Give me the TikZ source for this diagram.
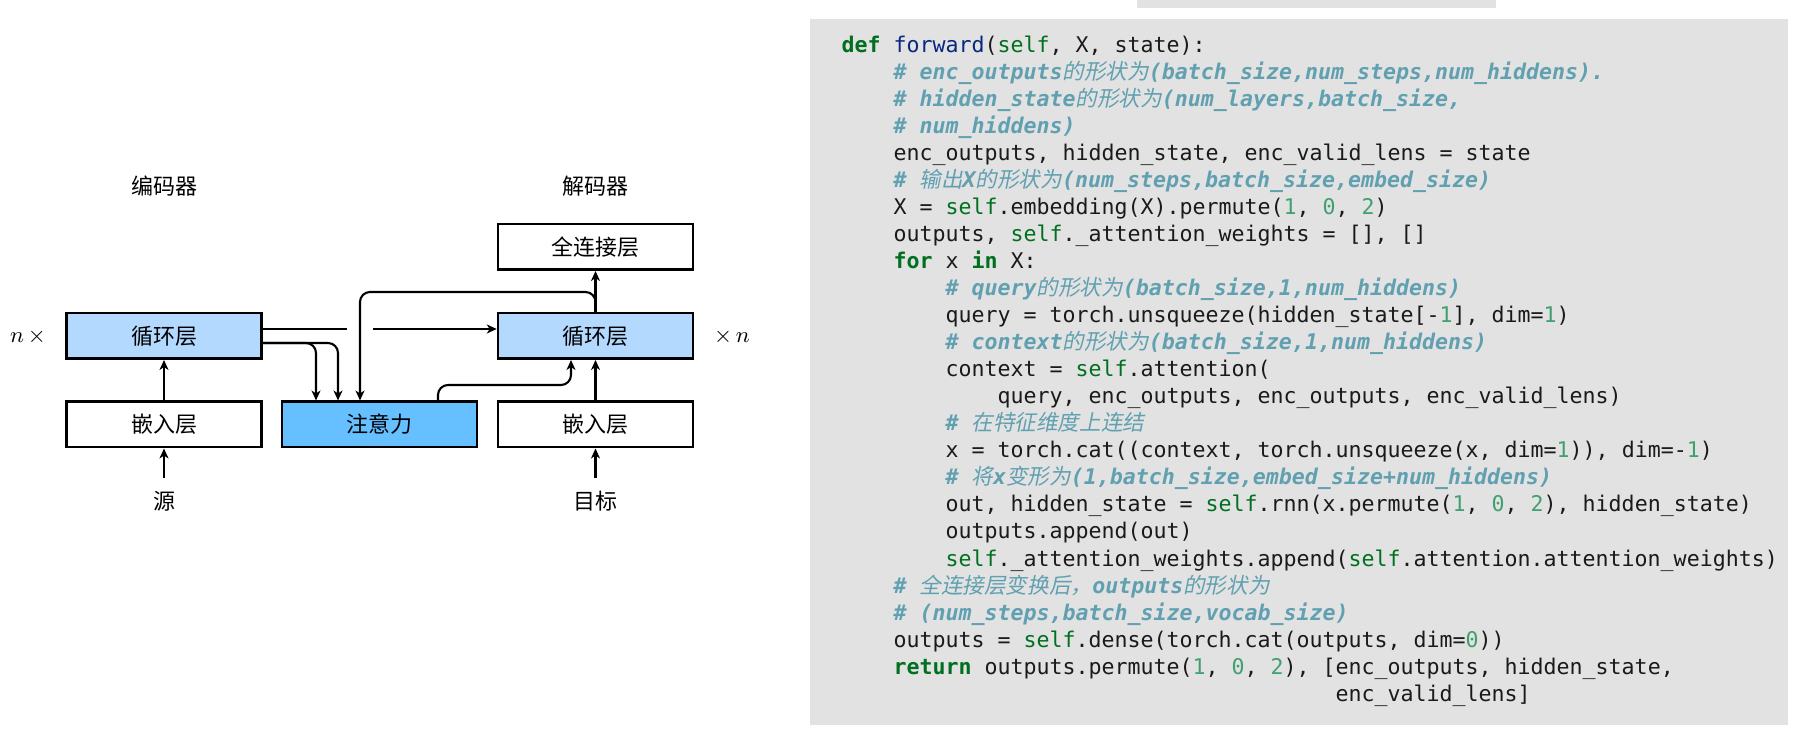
\documentclass[tikz,border=0pt]{standalone}
\usepackage{fontspec}
\setmonofont{DejaVu Sans Mono}
\newfontfamily\cjk{Noto Sans CJK SC}
\newfontfamily\cjkit{Noto Sans CJK SC}[FakeSlant=0.2]
\usetikzlibrary{arrows.meta,calc}
\definecolor{codebg}{RGB}{226,226,226}
\definecolor{rnnblue}{RGB}{179,217,255}
\definecolor{attblue}{RGB}{102,191,255}
\definecolor{kwgreen}{HTML}{007020}
\definecolor{fnblue}{HTML}{06287E}
\definecolor{numgreen}{HTML}{40A070}
\definecolor{cmblue}{HTML}{60A0B0}
\definecolor{codetext}{HTML}{1A1A1A}

% code colouring
\newcommand{\kw}[1]{{\bfseries\color{kwgreen}#1}}
\newcommand{\slf}[1]{{\color{kwgreen}#1}}
\newcommand{\fn}[1]{{\color{fnblue}#1}}
\newcommand{\nm}[1]{{\color{numgreen}#1}}
\newcommand{\cm}[1]{{\bfseries\itshape\color{cmblue}#1}}
\newcommand{\zh}[1]{{\cjkit\mdseries #1}}

\begin{document}
\begin{tikzpicture}[x=0.4pt, y=-0.4pt,
    box/.style={draw, line width=1pt, minimum width=78pt, minimum height=18.2pt,
        inner sep=0pt, font=\cjk\fontsize{8.8pt}{10pt}\selectfont},
    titletext/.style={inner sep=4.8pt, font=\cjk\fontsize{8.8pt}{10pt}\selectfont},
    mathtext/.style={inner sep=0pt, font=\fontsize{9pt}{10pt}\selectfont},
    wire/.style={line width=0.85pt, rounded corners=4pt},
    conn/.style={wire, -{Stealth[length=4pt, width=3.6pt, inset=1.2pt]}},
    codeline/.style={anchor=base west, inner sep=0pt, text=codetext,
        font=\ttfamily\fontsize{8.64pt}{10.8pt}\selectfont}]
    \fill[white] (0,0) rectangle (1810,744);
    \fill[codebg] (1137,0) rectangle (1496,8);
    \fill[codebg] (810,19) rectangle (1788,725);

    % diagram
    \node[titletext] (enctitle) at (164,186) {编码器};
    \node[titletext] (dectitle) at (595.5,186) {解码器};
    \node[box] (dense) at (595.5,247) {全连接层};
    \node[box, fill=rnnblue] (encrnn) at (164,336) {循环层};
    \node[box, fill=rnnblue] (decrnn) at (595.5,336) {循环层};
    \node[box] (encemb) at (164,424.5) {嵌入层};
    \node[box, fill=attblue] (attn) at (379.5,424.5) {注意力};
    \node[box] (decemb) at (595.5,424.5) {嵌入层};
    \node[titletext] (src) at (164,501) {源};
    \node[titletext] (tgt) at (595.5,501) {目标};
    \node[mathtext] (nl) at (28,337) {$n\,\times$};
    \node[mathtext] (nr) at (732,337) {$\times\,n$};
    \coordinate (gapl) at (347,329);
    \coordinate (gapr) at (373,329);

    \draw[conn] (src) -- (encemb);
    \draw[conn] (encemb) -- (encrnn);
    \draw[conn] (tgt) -- (decemb);
    \draw[conn] (decemb) -- (decrnn);
    \draw[conn] (decrnn) -- (dense);
    \draw[wire] ($(encrnn.east)+(0,-7)$) -- (gapl);
    \draw[conn] (gapr) -- (decrnn.west |- gapr);
    \draw[conn] ($(encrnn.east)+(0,7)$) -| ($(attn.north)+(-63.5,0)$);
    \draw[conn] ($(encrnn.east)+(0,7)$) -| ($(attn.north)+(-41.5,0)$);
    \draw[conn] (decrnn.north) -- ++(0,-20) -| ($(attn.north)+(-19.5,0)$);
    \draw[conn] ($(attn.north)+(58.5,0)$) |- ($(decrnn.south)+(-24.5,25)$) -- ($(decrnn.south)+(-24.5,0)$);

    % code
    \node[codeline] (c1) at (841,53) {\kw{def} \fn{forward}(\slf{self}, X, state):};
    \node[codeline] (c2) at (893,80) {\cm{\# enc\_outputs\zh{的形状为}(batch\_size,num\_steps,num\_hiddens).}};
    \node[codeline] (c3) at (893,107) {\cm{\# hidden\_state\zh{的形状为}(num\_layers,batch\_size,}};
    \node[codeline] (c4) at (893,134) {\cm{\# num\_hiddens)}};
    \node[codeline] (c5) at (893,161) {enc\_outputs, hidden\_state, enc\_valid\_lens = state};
    \node[codeline] (c6) at (893,188) {\cm{\# \zh{输出}X\zh{的形状为}(num\_steps,batch\_size,embed\_size)}};
    \node[codeline] (c7) at (893,215) {X = \slf{self}.embedding(X).permute(\nm{1}, \nm{0}, \nm{2})};
    \node[codeline] (c8) at (893,242) {outputs, \slf{self}.\_attention\_weights = [], []};
    \node[codeline] (c9) at (893,269) {\kw{for} x \kw{in} X:};
    \node[codeline] (c10) at (945,296) {\cm{\# query\zh{的形状为}(batch\_size,1,num\_hiddens)}};
    \node[codeline] (c11) at (945,323) {query = torch.unsqueeze(hidden\_state[-\nm{1}], dim=\nm{1})};
    \node[codeline] (c12) at (945,350) {\cm{\# context\zh{的形状为}(batch\_size,1,num\_hiddens)}};
    \node[codeline] (c13) at (945,377) {context = \slf{self}.attention(};
    \node[codeline] (c14) at (997,404) {query, enc\_outputs, enc\_outputs, enc\_valid\_lens)};
    \node[codeline] (c15) at (945,431) {\cm{\# \zh{在特征维度上连结}}};
    \node[codeline] (c16) at (945,458) {x = torch.cat((context, torch.unsqueeze(x, dim=\nm{1})), dim=-\nm{1})};
    \node[codeline] (c17) at (945,485) {\cm{\# \zh{将}x\zh{变形为}(1,batch\_size,embed\_size+num\_hiddens)}};
    \node[codeline] (c18) at (945,512) {out, hidden\_state = \slf{self}.rnn(x.permute(\nm{1}, \nm{0}, \nm{2}), hidden\_state)};
    \node[codeline] (c19) at (945,539) {outputs.append(out)};
    \node[codeline] (c20) at (945,566) {\slf{self}.\_attention\_weights.append(\slf{self}.attention.attention\_weights)};
    \node[codeline] (c21) at (893,593) {\cm{\# \zh{全连接层变换后，}outputs\zh{的形状为}}};
    \node[codeline] (c22) at (893,620) {\cm{\# (num\_steps,batch\_size,vocab\_size)}};
    \node[codeline] (c23) at (893,647) {outputs = \slf{self}.dense(torch.cat(outputs, dim=\nm{0}))};
    \node[codeline] (c24) at (893,674) {\kw{return} outputs.permute(\nm{1}, \nm{0}, \nm{2}), [enc\_outputs, hidden\_state,};
    \node[codeline] (c25) at (1335,701) {enc\_valid\_lens]};
\end{tikzpicture}
\end{document}
